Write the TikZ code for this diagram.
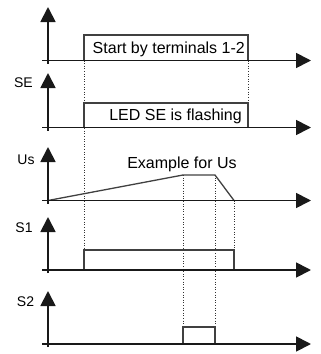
\documentclass[tikz,border=0pt]{standalone}
\usepackage{fontspec}
\setmainfont{Liberation Sans}
\usetikzlibrary{arrows.meta}
\begin{document}
\begin{tikzpicture}[x=1pt,y=-1pt,
  axis/.style={line width=1.8pt,color=black!90,-{Triangle[length=15pt,width=15pt]}},
  sig/.style={line width=1.3pt,color=black!75},
  guide/.style={line width=0.6pt,dotted,color=black!80},
  big/.style={font=\fontsize{16}{19}\selectfont,inner sep=0pt},
  lab/.style={font=\fontsize{14}{17}\selectfont,inner sep=0pt}]
\useasboundingbox (0,0) rectangle (321,354);
% guides
\draw[guide] (84,60.5) -- (84,250);
\draw[guide] (248,60.5) -- (248,103);
\draw[guide] (183,175) -- (183,327);
\draw[guide] (215,175) -- (215,327);
\draw[guide] (234,200.5) -- (234,250);
% signals
\draw[sig] (84,60.5) -- (84,35) -- (248,35) -- (248,60.5);
\draw[sig] (84,127.5) -- (84,103) -- (248,103) -- (248,127.5);
\draw[sig] (48,200.5) -- (183,175) -- (215,175) -- (234,200.5);
\draw[sig] (84,270) -- (84,250) -- (234,250) -- (234,270);
\draw[sig] (183,344) -- (183,327) -- (215,327) -- (215,344);
% axes
\foreach \ya/\yt in {60.5/7, 127.5/73, 200.5/147, 270/217, 344/291}{
  \draw[axis] (42,\ya) -- (311,\ya);
  \draw[axis] (48,\ya+3) -- (48,\yt);
}
% texts
\node[big,anchor=base east] (t1) at (245,53) {Start by terminals 1-2};
\node[big,anchor=base east] (t2) at (242,120) {LED SE is flashing};
\node[big,anchor=base] (t3) at (182,168) {Example for Us};
\node[lab] (lse) at (23.5,83) {SE};
\node[lab] (lus) at (26,160) {Us};
\node[lab] (ls1) at (24,228) {S1};
\node[lab] (ls2) at (25.5,302) {S2};
\end{tikzpicture}
\end{document}
